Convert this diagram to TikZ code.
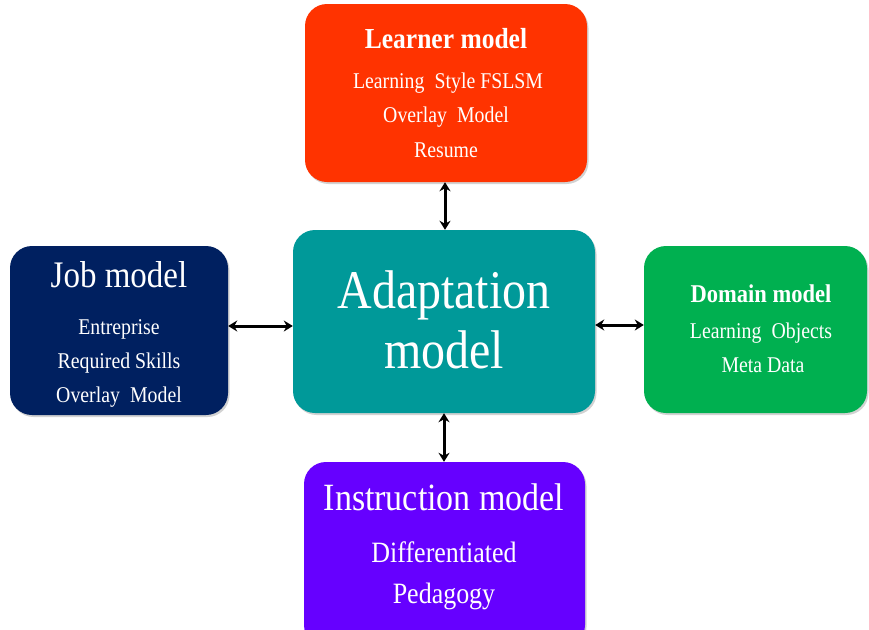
\documentclass[tikz,border=0pt]{standalone}
\usepackage{fontspec}
\setmainfont[FakeStretch=0.88]{Liberation Serif}
\usetikzlibrary{shadows,arrows.meta}
\definecolor{learnerc}{HTML}{FF3300}
\definecolor{adaptc}{HTML}{009999}
\definecolor{jobc}{HTML}{002060}
\definecolor{domainc}{HTML}{00B050}
\definecolor{instrc}{HTML}{6600FF}
\begin{document}
\begin{tikzpicture}[x=1pt,y=1pt,
  box/.style={rectangle, rounded corners=22pt, draw=none, inner sep=0pt,
    drop shadow={opacity=0.35, shadow xshift=1.5pt, shadow yshift=-2pt}},
  txt/.style={anchor=base, inner sep=0pt, text=white},
  arr/.style={draw=black, line width=3pt, {Stealth[length=9pt,width=11pt]}-{Stealth[length=9pt,width=11pt]}},
  fs/.style={font=\fontsize{#1}{#1}\selectfont}
]
\useasboundingbox (0,0) rectangle (869,-629);
\fill[white] (0,0) rectangle (869,-629);
% boxes
\node[box, fill=learnerc, minimum width=282pt, minimum height=178pt] (learner) at (446,-93) {};
\node[box, fill=adaptc, minimum width=302pt, minimum height=183pt] (adapt) at (444,-321.5) {};
\node[box, fill=jobc, minimum width=218pt, minimum height=169pt] (job) at (119,-330.5) {};
\node[box, fill=domainc, minimum width=223pt, minimum height=167pt] (domain) at (755.5,-329.5) {};
\node[box, fill=instrc, minimum width=281pt, minimum height=185pt] (instr) at (444.5,-554.5) {};
% texts
\node[txt, font=\bfseries\fontsize{29}{29}\selectfont] (lt) at (446,-48) {Learner model};
\node[txt, fs=22.5] (l1) at (448,-88) {Learning\hspace{0.45em}Style FSLSM};
\node[txt, fs=22.5] (l2) at (446,-122) {Overlay\hspace{0.45em}Model};
\node[txt, fs=22.5] (l3) at (446,-157) {Resume};

\node[txt, fs=54.5] (a1) at (444,-308) {Adaptation};
\node[txt, fs=54.5] (a2) at (444,-368) {model};

\node[txt, fs=37.5] (jt) at (119,-287) {Job model};
\node[txt, fs=22.5] (j1) at (119,-334) {Entreprise};
\node[txt, fs=22.5] (j2) at (119,-368) {Required Skills};
\node[txt, fs=22.5] (j3) at (119,-402) {Overlay\hspace{0.45em}Model};

\node[txt, font=\bfseries\fontsize{25.6}{25.6}\selectfont] (dt) at (761,-302) {Domain model};
\node[txt, fs=22.5] (d1) at (761,-338) {Learning\hspace{0.45em}Objects};
\node[txt, fs=22.5] (d2) at (763,-372) {Meta Data};

\node[txt, fs=38.6] (it) at (444,-510) {Instruction model};
\node[txt, fs=29.5] (i1) at (444,-562) {Differentiated};
\node[txt, fs=29.5] (i2) at (444,-603) {Pedagogy};
% connectors
\coordinate (cv1) at (445,0);
\coordinate (cv2) at (444,0);
\coordinate (ch1) at (0,-326);
\coordinate (ch2) at (0,-325);
\draw[arr] (learner.south -| cv1) -- (adapt.north -| cv1);
\draw[arr] (adapt.south -| cv2) -- (instr.north -| cv2);
\draw[arr] (job.east |- ch1) -- (adapt.west |- ch1);
\draw[arr] (adapt.east |- ch2) -- (domain.west |- ch2);
\end{tikzpicture}
\end{document}
